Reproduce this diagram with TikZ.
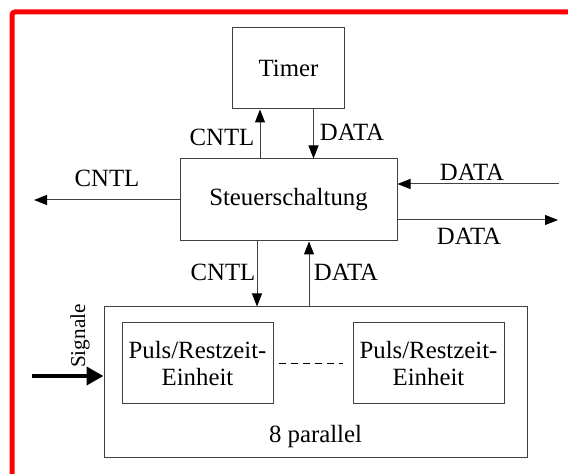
\documentclass[tikz,border=0pt]{standalone}
\usepackage{fontspec}
\setmainfont{Liberation Serif}
\usetikzlibrary{arrows.meta,positioning}
\definecolor{FrameRed}{HTML}{FF0000}
\definecolor{LineGray}{HTML}{404040}

\begin{document}
\begin{tikzpicture}[
    x=0.5pt, y=-0.5pt,
    font=\fontsize{12.4}{13.5}\selectfont,
    block/.style={draw=LineGray, line width=0.5pt, align=center, inner sep=0pt},
    unit/.style={block, minimum width=75.5pt, minimum height=40.5pt},
    lbl/.style={inner sep=0pt},
    arr/.style={-{Triangle[length=6.5pt,width=5pt,black]}, line width=0.5pt, draw=LineGray},
    sigarr/.style={-{Triangle[length=8.5pt,width=9pt]}, line width=2pt}
]
\useasboundingbox (0,0) rectangle (568,474);
% roter Rahmen
\draw[FrameRed, line width=2.5pt, rounded corners=1.5pt] (12,478) -- (12,12) -- (572,12);

% Steuerung und Timer
\node[block, minimum width=108.5pt, minimum height=41pt] (steuer) at (288.5,200) {Steuerschaltung};
\node[block, minimum width=56pt, minimum height=40.5pt, above=24.5pt of steuer] (timer) {Timer};

% Block mit den parallelen Einheiten
\node[block, minimum width=211.5pt, minimum height=75.5pt, below=32.5pt of steuer, xshift=13.5pt] (bank) {};
\node[unit, below right=8pt and 9pt of bank.north west] (unitA) {Puls/Restzeit-\\Einheit};
\node[unit, below left=8pt and 11.5pt of bank.north east] (unitB) {Puls/Restzeit-\\Einheit};
\node[lbl] (par) at ([yshift=11pt]bank.south) {8 parallel};
\draw[line width=0.6pt, dash pattern=on 3.5pt off 2.5pt, shorten <=2.5pt, shorten >=5pt] (unitA.east) -- (unitB.west);

% freie Enden
\coordinate (cntlEnd) at (34,200);
\coordinate (dataIn) at (559,184);
\coordinate (dataOut) at (558,220);
\coordinate (sigStart) at (32,376);

% Verbindungen Timer <-> Steuerschaltung
\draw[arr] ([xshift=-14.25pt]steuer.north) -- ([xshift=-14.25pt]steuer.north |- timer.south);
\draw[arr] ([xshift=12.5pt]timer.south) -- ([xshift=12.5pt]timer.south |- steuer.north);

% Verbindungen Steuerschaltung <-> Einheiten
\draw[arr] ([xshift=-15.75pt]steuer.south) -- ([xshift=-15.75pt]steuer.south |- bank.north);
\draw[arr] ([xshift=10.25pt]steuer.south |- bank.north) -- ([xshift=10.25pt]steuer.south);

% seitliche Leitungen
\draw[arr] (steuer.west) -- (cntlEnd);
\draw[arr] (dataIn) -- (dataIn -| steuer.east);
\draw[arr] (dataOut -| steuer.east) -- (dataOut);
\draw[sigarr] (sigStart) -- (sigStart -| bank.west);

% Beschriftungen
\node[lbl] (cntlTop) at (222,137) {CNTL};
\node[lbl] (dataTop) at (352,132) {DATA};
\node[lbl] (cntlLeft) at (107,178) {CNTL};
\node[lbl] (dataInLbl) at (472,172) {DATA};
\node[lbl] (dataOutLbl) at (469,236) {DATA};
\node[lbl] (cntlBot) at (223,272) {CNTL};
\node[lbl] (dataBot) at (346,272) {DATA};
\node[lbl, rotate=90, font=\fontsize{10.6}{12}\selectfont] (sig) at (80,336) {Signale};
\end{tikzpicture}
\end{document}
